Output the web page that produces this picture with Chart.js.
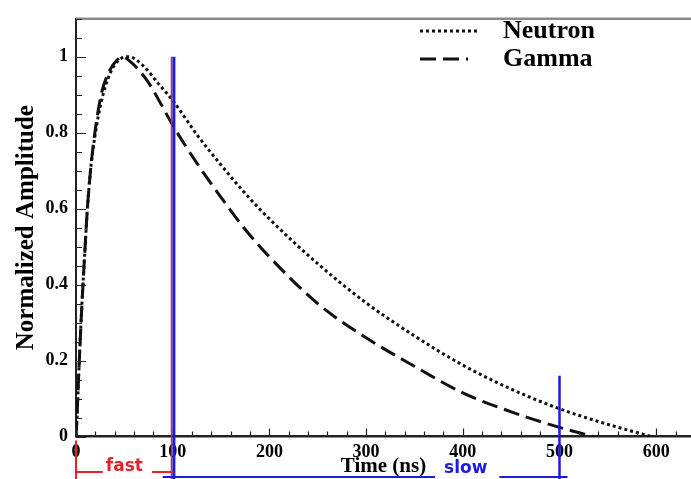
<!DOCTYPE html>
<html>
<head>
  <meta charset="utf-8">
  <title>Neutron / Gamma pulse shapes</title>
  <script src="https://cdn.jsdelivr.net/npm/chart.js"></script>
  <style>
    html, body { margin: 0; padding: 0; background: #fff; }
  </style>
</head>
<body>
  <canvas id="pulse" width="691" height="479"></canvas>
  <script>
    // pulse shapes
    const neutronTime = [0, 1, 2.5, 5, 7, 9, 11.5, 15, 19.5, 26, 35, 45, 55, 70, 85, 100, 125, 150, 175, 200, 250, 300, 350, 400, 450, 500, 550, 595];
    const neutronAmp  = [0, 0.05, 0.145, 0.29, 0.39, 0.48, 0.59, 0.7, 0.79, 0.88, 0.955, 0.993, 1.0, 0.975, 0.93, 0.885, 0.795, 0.715, 0.64, 0.573, 0.455, 0.352, 0.265, 0.188, 0.125, 0.073, 0.032, 0];
    const gammaTime = [0, 1, 2.5, 5, 7, 9, 11.5, 15, 19.5, 26, 35, 42, 48, 55, 65, 76, 88, 100, 125, 150, 175, 200, 250, 300, 350, 400, 450, 500, 535];
    const gammaAmp  = [0, 0.05, 0.145, 0.29, 0.39, 0.48, 0.59, 0.7, 0.8, 0.9, 0.965, 0.99, 1.0, 0.99, 0.965, 0.928, 0.875, 0.82, 0.72, 0.63, 0.545, 0.473, 0.35, 0.26, 0.185, 0.115, 0.065, 0.024, 0];

    const xTickValues = [0, 100, 200, 300, 400, 500, 600];
    const yTickValues = [0, 0.2, 0.4, 0.6, 0.8, 1];

    // integration windows (ns) and how high their cut lines reach
    const fastWindow = [0, 100];
    const slowWindow = [100, 500];
    const cutTop = [1.0, 0.16];

    const toPoints = (xs, ys) => xs.map((x, i) => ({ x: x, y: ys[i] }));

    const RED = '#e3232b';
    const BLUE = '#1c1cdc';
    const SERIF = '"Liberation Serif", "DejaVu Serif", serif';

    const framePlugin = {
      id: 'frame',
      afterDatasetsDraw(chart) {
        const { ctx, chartArea: a, scales: { x, y } } = chart;
        const H = chart.height;
        ctx.save();

        // top frame line
        ctx.strokeStyle = '#8a8a8a';
        ctx.lineWidth = 2.5;
        ctx.beginPath();
        ctx.moveTo(a.left, a.top);
        ctx.lineTo(a.right, a.top);
        ctx.stroke();

        // inward ticks
        ctx.strokeStyle = '#222';
        ctx.lineWidth = 1.2;
        ctx.beginPath();
        for (let v = 0; v <= x.max; v += 20) {
          const px = Math.round(x.getPixelForValue(v)) + 0.5;
          const len = v % 100 === 0 ? 8 : 5;
          ctx.moveTo(px, a.bottom);
          ctx.lineTo(px, a.bottom - len);
        }
        for (let i = 0; i * 0.05 <= y.max + 1e-9; i++) {
          const py = Math.round(y.getPixelForValue(i * 0.05)) + 0.5;
          const len = i % 4 === 0 ? 10 : 6;
          ctx.moveTo(a.left, py);
          ctx.lineTo(a.left + len, py);
        }
        ctx.stroke();

        // legend
        const lx = a.right - 271;
        chart.data.datasets.forEach((ds, i) => {
          const ly = 31 + i * 28;
          ctx.strokeStyle = ds.borderColor;
          ctx.lineWidth = ds.borderWidth;
          ctx.setLineDash(ds.borderDash);
          ctx.beginPath();
          ctx.moveTo(lx, ly);
          ctx.lineTo(lx + (i === 0 ? 60 : 48), ly);
          ctx.stroke();
          ctx.setLineDash([]);
          ctx.fillStyle = '#000';
          ctx.font = 'bold 26px ' + SERIF;
          ctx.textAlign = 'left';
          ctx.textBaseline = 'middle';
          ctx.fillText(ds.label, lx + 83, ly);
        });

        // window markers
        const p0 = x.getPixelForValue(fastWindow[0]);
        const p1 = x.getPixelForValue(fastWindow[1]);
        const p2 = x.getPixelForValue(slowWindow[1]);

        ctx.strokeStyle = RED;
        ctx.lineWidth = 1.5;
        ctx.beginPath();
        ctx.moveTo(p1 - 1.2, y.getPixelForValue(cutTop[0]));
        ctx.lineTo(p1 - 1.2, H);
        ctx.stroke();

        ctx.strokeStyle = BLUE;
        ctx.lineWidth = 3;
        ctx.beginPath();
        ctx.moveTo(p1 + 1.2, y.getPixelForValue(cutTop[0]));
        ctx.lineTo(p1 + 1.2, H);
        ctx.stroke();

        ctx.lineWidth = 2.5;
        ctx.beginPath();
        ctx.moveTo(p2, y.getPixelForValue(cutTop[1]));
        ctx.lineTo(p2, H);
        ctx.stroke();

        ctx.font = 'bold 17px "DejaVu Sans", sans-serif';
        ctx.textAlign = 'center';
        ctx.textBaseline = 'middle';

        // fast
        ctx.strokeStyle = RED;
        ctx.fillStyle = RED;
        ctx.lineWidth = 2;
        const fx = (p0 + p1) / 2;
        const fw = ctx.measureText('fast').width;
        ctx.beginPath();
        ctx.moveTo(p0, a.bottom + 4);
        ctx.lineTo(p0, H);
        ctx.moveTo(p0, 472);
        ctx.lineTo(fx - fw / 2 - 3, 472);
        ctx.moveTo(fx + fw / 2 + 9, 472);
        ctx.lineTo(p1 + 1, 472);
        ctx.stroke();
        ctx.fillText('fast', fx, 467);

        // slow
        ctx.strokeStyle = BLUE;
        ctx.fillStyle = BLUE;
        const sx = x.getPixelForValue(403);
        const sw = ctx.measureText('slow').width;
        ctx.beginPath();
        ctx.moveTo(p1 - 10, 477);
        ctx.lineTo(sx - sw / 2 - 9, 477);
        ctx.moveTo(sx + sw / 2 + 12, 477);
        ctx.lineTo(p2 + 8, 477);
        ctx.stroke();
        ctx.fillText('slow', sx, 469);

        ctx.restore();
      }
    };

    new Chart(document.getElementById('pulse'), {
      type: 'line',
      data: {
        datasets: [
          {
            label: 'Neutron',
            data: toPoints(neutronTime, neutronAmp),
            borderColor: '#111',
            borderWidth: 3,
            borderDash: [3, 3],
            borderCapStyle: 'butt',
            pointRadius: 0,
            cubicInterpolationMode: 'monotone',
            fill: false
          },
          {
            label: 'Gamma',
            data: toPoints(gammaTime, gammaAmp),
            borderColor: '#111',
            borderWidth: 3,
            borderDash: [16, 7],
            borderCapStyle: 'butt',
            pointRadius: 0,
            cubicInterpolationMode: 'monotone',
            fill: false
          }
        ]
      },
      options: {
        responsive: false,
        animation: false,
        devicePixelRatio: 1,
        layout: { padding: { top: 7, right: 0, left: 0, bottom: 0 } },
        plugins: {
          legend: { display: false },
          tooltip: { enabled: false }
        },
        scales: {
          x: {
            type: 'linear',
            min: 0,
            max: 636,
            afterBuildTicks: s => { s.ticks = xTickValues.map(v => ({ value: v })); },
            afterFit: s => { s.height = 42.5; },
            grid: { display: false, drawTicks: false },
            border: { display: true, color: '#222', width: 2.5 },
            ticks: {
              color: '#000',
              padding: 5,
              maxRotation: 0,
              autoSkip: false,
              font: { family: SERIF, size: 18, weight: 'bold' }
            },
            title: {
              display: true,
              text: 'Time (ns)',
              color: '#000',
              padding: { top: 0, bottom: 0 },
              font: { family: SERIF, size: 21, weight: 'bold' }
            }
          },
          y: {
            min: 0,
            max: 1.1,
            afterBuildTicks: s => { s.ticks = yTickValues.map(v => ({ value: v })); },
            afterFit: s => { s.width = 76; },
            grid: { display: false, drawTicks: false },
            border: { display: true, color: '#222', width: 2 },
            ticks: {
              color: '#000',
              padding: 8,
              callback: v => String(v),
              font: { family: SERIF, size: 18, weight: 'bold' }
            },
            title: {
              display: true,
              text: 'Normalized Amplitude',
              color: '#000',
              padding: { top: 12, bottom: 0 },
              font: { family: SERIF, size: 25, weight: 'bold' }
            }
          }
        }
      },
      plugins: [framePlugin]
    });
  </script>
</body>
</html>
